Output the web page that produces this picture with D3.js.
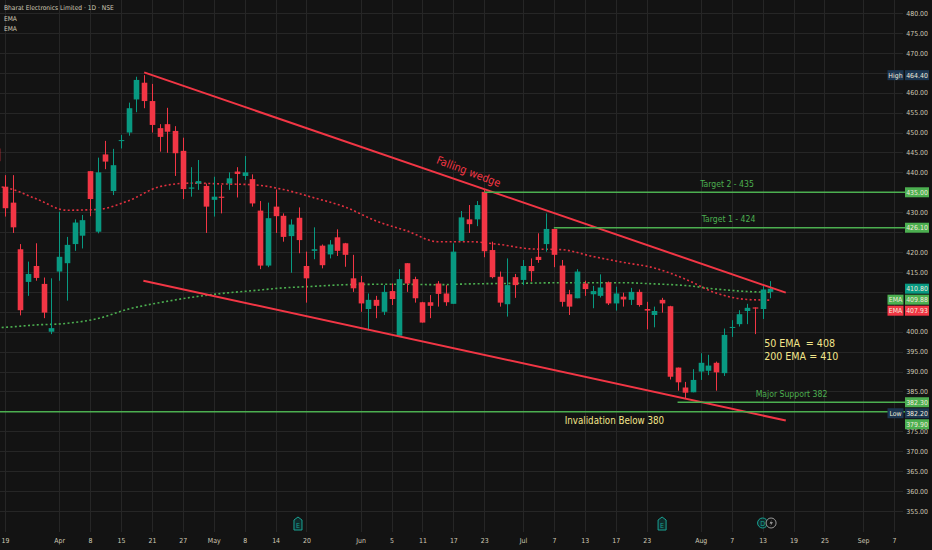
<!DOCTYPE html>
<html lang="en">
<head>
  <meta charset="utf-8">
  <title>Bharat Electronics Limited - 1D - NSE</title>
  <style>
    html,body { margin:0; padding:0; background:#131313; }
    svg { display:block; }
    text { font-family: "Liberation Sans Narrow", "DejaVu Sans Condensed", Roboto, sans-serif; }
  </style>
  <script src="https://d3js.org/d3.v7.min.js"></script>
</head>
<body>
<svg id="chart" width="932" height="550"></svg>
<script>
// Daily candles, bar index -1 .. 99
const firstIdx = -1;
const opens  = [446.0,436.4,432.4,420.7,412.5,416.5,412.0,400.0,415.1,417.2,422.0,424.1,440.3,425.1,444.5,435.3,447.9,450.0,458.3,462.5,457.9,451.1,452.1,450.4,445.4,435.9,437.2,436.6,433.1,433.9,437.2,440.2,439.1,438.3,430.4,416.6,431.4,429.1,424.0,428.6,416.5,420.3,421.6,419.4,423.7,422.2,413.4,412.4,405.7,408.0,405.0,410.2,399.0,417.2,413.2,407.4,407.4,412.1,409.6,407.0,422.8,428.2,428.2,435.1,420.5,413.8,406.9,413.7,413.0,416.5,418.8,422.0,425.8,416.6,409.4,408.4,412.1,409.4,409.0,412.4,407.1,408.8,408.0,410.0,405.7,404.2,408.0,406.4,391.0,386.0,384.8,390.0,390.2,392.2,389.6,401.0,401.9,405.2,406.1,405.7,410.0];
const highs  = [448.0,439.3,439.3,422.0,417.6,422.2,413.6,413.4,430.1,423.8,428.2,429.3,440.3,443.7,447.9,445.9,449.4,457.5,464.0,464.4,462.2,452.1,456.2,451.6,448.7,441.3,443.1,437.2,438.9,436.8,440.0,441.3,444.1,439.5,432.8,432.4,435.7,429.7,428.2,431.2,420.1,426.2,421.9,423.0,425.7,422.3,419.3,414.0,409.6,409.0,411.7,412.1,415.7,417.2,413.8,407.5,409.2,412.7,411.7,422.2,430.3,431.8,432.8,435.6,422.6,415.1,418.4,414.5,418.0,418.4,424.7,429.7,425.8,418.0,410.5,415.7,412.8,411.5,414.4,412.6,411.3,409.8,411.0,410.6,407.5,406.3,408.5,406.5,391.0,387.4,390.6,394.6,394.2,392.5,400.8,402.9,405.4,407.0,406.1,411.7,412.7];
const lows   = [440.5,428.9,424.8,404.1,409.0,412.8,403.4,399.4,412.8,407.8,420.3,420.9,429.0,424.7,440.8,434.3,446.0,449.2,455.1,456.1,450.0,445.2,444.9,439.1,433.3,433.9,435.6,424.8,428.9,429.7,435.6,433.7,438.1,431.4,415.7,416.2,424.8,422.6,414.8,419.7,407.3,418.2,415.9,418.4,419.0,416.3,410.0,405.0,400.4,403.4,404.2,406.7,399.0,410.0,407.3,402.3,403.4,406.3,406.5,407.0,422.8,424.8,426.5,418.7,413.4,406.3,403.8,408.5,411.7,412.6,417.3,420.1,416.2,406.3,404.2,408.4,409.0,405.9,408.6,406.7,405.3,406.3,406.7,406.3,400.6,401.1,404.8,388.0,385.2,383.1,384.8,387.9,389.1,385.2,388.9,398.7,401.3,401.9,399.4,403.2,408.4];
const closes = [442.8,431.0,426.2,405.4,414.5,413.5,404.8,400.9,418.8,421.8,427.4,428.0,433.3,440.0,442.7,441.8,448.1,456.1,463.2,457.9,451.9,448.9,450.2,444.8,435.8,436.2,437.8,431.4,433.9,433.6,438.5,439.6,440.0,432.2,416.6,428.5,429.0,423.8,426.9,423.0,413.4,420.7,416.7,421.9,420.3,419.3,410.9,407.1,408.0,406.5,410.0,408.2,413.2,412.1,408.4,402.3,406.5,409.5,407.4,420.1,428.7,427.0,431.8,420.2,413.7,407.3,411.7,411.7,416.5,415.2,418.0,425.8,419.3,407.5,406.3,415.1,410.7,410.2,411.1,407.1,409.6,408.1,410.0,406.7,405.3,405.2,407.1,388.7,387.3,384.7,387.9,392.2,391.5,389.8,399.2,401.2,404.4,406.0,405.8,410.6,410.8];

// EMA readings every 4 bars
const emaIdx = [-1,0,4,8,12,16,20,24,28,32,36,40,44,48,52,56,60,64,68,72,76,80,84,88,92,96,99];
const ema50  = [436.4,436.2,433.4,430.5,430.7,432.9,436.4,437.3,437.1,436.9,435.7,433.6,431.3,427.8,425.3,422.6,422.6,421.9,420.8,420.6,418.9,417.4,416.0,413.2,409.7,408.1,407.93];
const ema200 = [401.0,401.1,401.7,402.1,403.3,405.7,407.3,408.6,409.6,410.3,411.0,411.4,411.8,411.9,411.9,411.8,412.0,412.1,412.2,412.3,412.3,412.3,412.0,411.6,410.7,410.1,409.88];

// time axis
const xTickIdx    = [0,7,11,15,19,23,27,31,35,39,46,50,54,58,62,67,71,75,79,83,90,94,98,102,106,111,115];
const xTickLabels = ["19","Apr","8","15","21","27","May","8","14","20","Jun","5","11","17","23","Jul","7","13","17","23","Aug","7","13","19","25","Sep","7"];
const priceTicks  = d3.range(355, 481, 5);

// drawings: wedge lines [idx, price] and horizontal levels
const wedgeUpper = [[18.0, 465.1], [101.0, 409.8]];
const wedgeLower = [[17.9, 412.8], [101.0, 377.7]];
const levels = [
  {price: 435.0, from: 62},
  {price: 426.1, from: 71},
  {price: 382.3, from: 87},
  {price: 379.9, from: -2}
];

// price-scale labels
const scaleLabels = [
  {price: 464.40, bg: "#1c3550", tag: "High"},
  {price: 435.00, bg: "#4caf50"},
  {price: 426.10, bg: "#4caf50"},
  {price: 410.80, bg: "#089981"},
  {price: 409.88, bg: "#4caf50", tag: "EMA"},
  {price: 407.93, bg: "#f23645", tag: "EMA"},
  {price: 382.30, bg: "#4caf50"},
  {price: 382.20, bg: "#1c3550", tag: "Low"},
  {price: 379.90, bg: "#4caf50"}
];

const W = 932, H = 550, plotR = 903, plotB = 532;
const UP = "#089981", DOWN = "#f23645", GREEN = "#4caf50", YELLOW = "#f2e58a", TXT = "#cfcab6";
const FONT = '"Liberation Sans Narrow", "DejaVu Sans Condensed", Roboto, sans-serif';

const svg = d3.select("#chart");
const x = d3.scaleLinear().domain([0, 115]).range([5, 894]);
const y = d3.scaleLinear().domain([355, 480]).range([511, 13]);

svg.append("rect").attr("width", W).attr("height", H).attr("fill", "#131313");

svg.append("defs").append("clipPath").attr("id", "plot")
  .append("rect").attr("width", plotR).attr("height", plotB);

// grid
const grid = svg.append("g").attr("stroke", "#262626").attr("stroke-width", 1);
grid.selectAll("line.h").data(priceTicks).join("line")
  .attr("x1", 0).attr("x2", plotR)
  .attr("y1", d => Math.round(y(d)) + 0.5).attr("y2", d => Math.round(y(d)) + 0.5);
grid.selectAll("line.v").data(xTickIdx).join("line")
  .attr("y1", 0).attr("y2", plotB)
  .attr("x1", d => Math.round(x(d)) + 0.5).attr("x2", d => Math.round(x(d)) + 0.5);

const plot = svg.append("g").attr("clip-path", "url(#plot)");

// EMAs (dotted)
const emaLine = d3.line().x(d => x(d[0])).y(d => y(d[1])).curve(d3.curveMonotoneX);
plot.append("path").attr("d", emaLine(emaIdx.map((d, i) => [d, ema200[i]])))
  .attr("fill", "none").attr("stroke", GREEN).attr("stroke-width", 1.6).attr("stroke-dasharray", "2,2.4");
plot.append("path").attr("d", emaLine(emaIdx.map((d, i) => [d, ema50[i]])))
  .attr("fill", "none").attr("stroke", "#e0303f").attr("stroke-width", 1.6).attr("stroke-dasharray", "2,2.4");

// candles
const bars = opens.map((o, i) => ({i: i + firstIdx, o, h: highs[i], l: lows[i], c: closes[i]}));
const cw = 5.6;
const cg = plot.selectAll("g.bar").data(bars).join("g")
  .attr("fill", d => d.c >= d.o ? UP : DOWN)
  .attr("stroke", d => d.c >= d.o ? UP : DOWN);
cg.append("line")
  .attr("x1", d => Math.round(x(d.i)) + 0.5).attr("x2", d => Math.round(x(d.i)) + 0.5)
  .attr("y1", d => y(d.h)).attr("y2", d => y(d.l)).attr("stroke-width", 1);
cg.append("rect")
  .attr("x", d => Math.round(x(d.i)) + 0.5 - cw / 2).attr("width", cw)
  .attr("y", d => y(Math.max(d.o, d.c)))
  .attr("height", d => Math.max(1, y(Math.min(d.o, d.c)) - y(Math.max(d.o, d.c))))
  .attr("stroke", "none");

// levels
svg.selectAll("line.lvl").data(levels).join("line")
  .attr("x1", d => Math.max(0, x(d.from))).attr("x2", 905)
  .attr("y1", d => y(d.price)).attr("y2", d => y(d.price))
  .attr("stroke", GREEN).attr("stroke-width", 1.5);

// wedge
[wedgeUpper, wedgeLower].forEach(seg => {
  plot.append("line")
    .attr("x1", x(seg[0][0])).attr("y1", y(seg[0][1]))
    .attr("x2", x(seg[1][0])).attr("y2", y(seg[1][1]))
    .attr("stroke", DOWN).attr("stroke-width", 2);
});

// annotations
const ang = Math.atan2(y(wedgeUpper[1][1]) - y(wedgeUpper[0][1]), x(wedgeUpper[1][0]) - x(wedgeUpper[0][0])) * 180 / Math.PI;
svg.append("text").attr("transform", `translate(${x(59.8)},${y(439.3)}) rotate(${ang + 2})`)
  .attr("text-anchor", "middle").attr("fill", DOWN).attr("font-size", 11).text("Falling wedge");

svg.append("text").attr("x", x(93.4)).attr("y", y(435) - 5).attr("text-anchor", "middle")
  .attr("fill", GREEN).attr("font-size", 8.6).text("Target 2 - 435");
svg.append("text").attr("x", x(93.6)).attr("y", y(426.1) - 6).attr("text-anchor", "middle")
  .attr("fill", GREEN).attr("font-size", 8.6).text("Target 1 - 424");
svg.append("text").attr("x", x(97.1)).attr("y", y(382.3) - 5.5)
  .attr("fill", GREEN).attr("font-size", 8.6).text("Major Support 382");
svg.append("text").attr("x", x(72.4)).attr("y", y(379.9) + 12.5)
  .attr("fill", YELLOW).attr("font-size", 9.7).text("Invalidation Below 380");
const emaNote = svg.append("g").attr("fill", YELLOW).attr("font-size", 10.6);
emaNote.append("text").attr("x", x(98.2)).attr("y", y(396.2)).text("50 EMA");
emaNote.append("text").attr("x", x(103.6)).attr("y", y(396.2)).text("= 408");
emaNote.append("text").attr("x", x(98.2)).attr("y", y(392.9)).text("200 EMA = 410");

// title / legend
const legend = svg.append("g").attr("fill", TXT).attr("font-size", 6.6);
legend.append("text").attr("x", 4).attr("y", 10).text("Bharat Electronics Limited · 1D · NSE");
legend.append("text").attr("x", 4).attr("y", 21).text("EMA");
legend.append("text").attr("x", 4).attr("y", 31).text("EMA");

// price-scale boxes, pushed apart where they collide
let lastY = -Infinity;
const boxes = scaleLabels.sort((a, b) => b.price - a.price).map(d => {
  const cy = Math.max(y(d.price), lastY + 11);
  lastY = cy;
  return {...d, cy};
});

// price axis (labels hidden where a box sits on them)
const shownTicks = priceTicks.filter(t => boxes.every(b => Math.abs(y(t) - b.cy) > 7));
const yAxis = svg.append("g").attr("transform", "translate(929,0)")
  .call(d3.axisLeft(y).tickValues(shownTicks).tickFormat(d3.format(".2f")).tickSize(0).tickPadding(1));
yAxis.select(".domain").remove();
yAxis.selectAll("text").attr("fill", TXT).attr("font-size", 6.9).style("font-family", FONT);

// time axis
const xAxis = svg.append("g").attr("transform", `translate(0,${plotB + 6})`)
  .call(d3.axisBottom(x).tickValues(xTickIdx).tickFormat((d, i) => xTickLabels[i]).tickSize(0).tickPadding(0));
xAxis.select(".domain").remove();
xAxis.selectAll("text").attr("fill", TXT).attr("font-size", 6.9).style("font-family", FONT);

// event markers on the time scale
function earnings(cx) {
  const g = svg.append("g").attr("transform", `translate(${cx},517)`);
  g.append("path").attr("d", "M0,0 L4,3 L4,13 L-4,13 L-4,3 Z")
    .attr("fill", "#0f2b2a").attr("stroke", "#1aa394").attr("stroke-width", 1);
  g.append("text").attr("y", 11).attr("text-anchor", "middle").attr("fill", "#1aa394")
    .attr("font-size", 7).text("E");
}
earnings(x(37.9));
earnings(x(85));
const dv = svg.append("g").attr("transform", `translate(${x(98)},523)`);
dv.append("circle").attr("r", 5).attr("fill", "#0f2b2a").attr("stroke", "#1aa394");
dv.append("text").attr("y", 2.5).attr("text-anchor", "middle").attr("fill", "#1aa394").attr("font-size", 7).text("D");
const sp = svg.append("g").attr("transform", `translate(${x(99.1)},523)`);
sp.append("circle").attr("r", 5).attr("fill", "#131313").attr("stroke", "#9a9a9a");
sp.append("path").attr("d", "M1,-3.5 L-1.5,0.5 L0.5,0.5 L-1,3.5 L1.8,-0.8 L-0.2,-0.8 Z").attr("fill", "#bbbbbb");

boxes.forEach(d => {
  const g = svg.append("g");
  g.append("rect").attr("x", 905).attr("y", d.cy - 5).attr("width", 24).attr("height", 10).attr("fill", d.bg);
  g.append("text").attr("x", 917).attr("y", d.cy + 2.5).attr("text-anchor", "middle")
    .attr("fill", "#efeadb").attr("font-size", 6.9).text(d3.format(".2f")(d.price));
  if (d.tag) {
    g.append("rect").attr("x", 887.5).attr("y", d.cy - 5).attr("width", 16).attr("height", 10).attr("fill", d.bg);
    g.append("text").attr("x", 895.5).attr("y", d.cy + 2.5).attr("text-anchor", "middle")
      .attr("fill", "#efeadb").attr("font-size", 6.9).text(d.tag);
  }
});
</script>
</body>
</html>
